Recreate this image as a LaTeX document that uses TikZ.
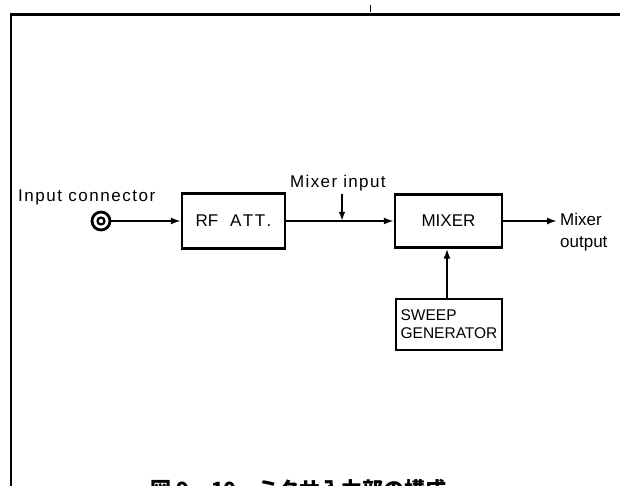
\documentclass[tikz,border=0pt]{standalone}
\usepackage{fontspec}
\setmainfont{Liberation Sans}
\newfontfamily\jpfont{Noto Sans CJK JP}
\usetikzlibrary{arrows.meta}
\begin{document}
\begin{tikzpicture}[x=1pt,y=-1pt,
  blk/.style={draw,line width=2.4pt,inner sep=0pt,font=\fontsize{17}{20}\selectfont},
  lbl/.style={inner sep=0pt,font=\fontsize{17}{22}\selectfont},
  conn/.style={line width=1.8pt,-{Latex[length=10pt,width=7pt]}}]
\useasboundingbox (0,0) rectangle (620,486);
\clip (0,0) rectangle (620,486);
% frame
\draw[line width=2.4pt] (620,14.5) -- (11,14.5) -- (11,486);
\draw[line width=0.8pt] (370,5) -- (370,12);
% blocks
\node[blk,minimum width=103pt,minimum height=55pt] (rf) at (233.5,221) {RF\hspace{0.7em}A\hspace{1.5pt}T\hspace{1.5pt}T\hspace{1.5pt}.};
\node[blk,minimum width=107pt,minimum height=53pt] (mix) at (448.5,221) {MIXER};
\node[blk,minimum width=106pt,minimum height=51pt,align=left,font=\fontsize{15.5}{18}\selectfont] (swp) at (449,324.5) {SWEEP\\GENERATOR};
% input connector
\node[circle,draw,line width=2.8pt,minimum size=18pt,inner sep=0pt] (in) at (101,221) {};
\draw[line width=2.2pt] (in.center) circle (3.5pt);
% labels
\node[lbl,anchor=base west,font=\fontsize{17}{22}\selectfont\addfontfeatures{LetterSpace=9}] (inl) at (18,201) {Input connector};
\node[lbl,anchor=base west,font=\fontsize{17}{22}\selectfont\addfontfeatures{LetterSpace=8}] (mil) at (290,188) {Mixer input};
\node[lbl,anchor=west,align=left] (mol) at (560,232) {Mixer\\output};
% connectors
\coordinate (mi) at (342,221);
\coordinate (mitop) at (342,194);
\coordinate (out) at (557,221);
\draw[conn] (in.east) -- (rf.west);
\draw[conn] (rf.east) -- (mix.west);
\draw[conn,-{Latex[length=9pt,width=6.5pt]}] (mitop) -- (mi);
\draw[conn] (mix.east) -- (out);
\draw[conn] (swp.north -| 447,0) -- (mix.south -| 447,0);
% caption
\node[inner sep=0pt,anchor=base west,font=\jpfont\bfseries\fontsize{21}{21}\selectfont] (cap) at (150,497) {図 9 − 10\hspace{1em}ミクサ入力部の構成};
\end{tikzpicture}
\end{document}
